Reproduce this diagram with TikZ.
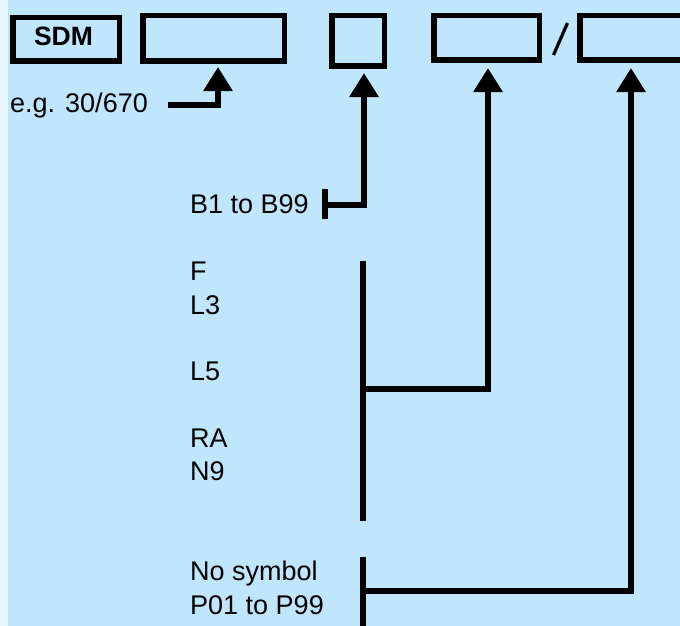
\documentclass[tikz,border=0pt]{standalone}
\usepackage{fontspec}
\setmainfont{Liberation Sans}
\usetikzlibrary{arrows.meta}
\definecolor{bg}{RGB}{191,230,253}
\definecolor{strip}{RGB}{232,246,255}
\begin{document}
\begin{tikzpicture}[x=1pt,y=-1pt,
  field/.style={draw=black, line width=5.5pt, inner sep=0pt},
  conn/.style={line width=6pt},
  arr/.style={conn,-{Triangle[width=28pt,length=24pt]}},
  bar/.style={line width=6pt},
  lbl/.style={anchor=base west, inner sep=0pt, font=\fontsize{27}{27}\selectfont}]
\useasboundingbox (0,0) rectangle (680,626);
\fill[bg] (0,0) rectangle (680,626);
\fill[strip] (0,0) rectangle (8,626);

% fields
\node[field, minimum width=106.5pt, minimum height=43.5pt] (sdm) at (66,39.5) {};
\node[inner sep=0pt, font=\bfseries\fontsize{26.5}{26.5}\selectfont] (sdmt) at (63.5,36.5) {SDM};
\node[field, minimum width=141.5pt, minimum height=45.5pt] (f2) at (213.5,38.5) {};
\node[field, minimum width=52.5pt, minimum height=50.5pt] (f3) at (358,41) {};
\node[field, minimum width=105.5pt, minimum height=44.5pt] (f4) at (486.5,38) {};
\node[field, minimum width=150pt, minimum height=44.5pt] (f5) at (654.75,38) {};
\coordinate (s1) at (553.5,55);
\coordinate (s2) at (567.5,23);
\draw[line width=3.2pt] (s1) -- (s2);

% labels
\node[lbl] (eg) at (10,112) {e.g. 30/670};
\node[lbl] (b) at (190,213) {B1 to B99};
\node[lbl] (lf) at (190,280) {F};
\node[lbl] (l3) at (190,314) {L3};
\node[lbl] (l5) at (190,380) {L5};
\node[lbl] (ra) at (190,447) {RA};
\node[lbl] (n9) at (190,480) {N9};
\node[lbl] (ns) at (190,580) {No symbol};
\node[lbl] (p) at (190,614) {P01 to P99};

% connector points
\coordinate (egs) at (168,105);
\coordinate (egt) at (218,105);
\coordinate (bt1) at (325,189);
\coordinate (bt2) at (325,219);
\coordinate (bj) at (325,204.5);
\coordinate (x3) at (364,0);
\coordinate (v1) at (363,261);
\coordinate (v2) at (363,521);
\coordinate (vj) at (363,389);
\coordinate (x4) at (488,0);
\coordinate (w1) at (363,557);
\coordinate (w2) at (363,640);
\coordinate (wj) at (363,591);
\coordinate (x5) at (631,0);

% connectors
\draw[arr, shorten >=3pt] (egs) -| (egt |- f2.south);
\draw[bar] (bt1) -- (bt2);
\draw[arr, shorten >=4pt] (bj) -| (x3 |- f3.south);
\draw[bar] (v1) -- (v2);
\draw[arr, shorten >=5pt] (vj) -| (x4 |- f4.south);
\draw[bar] (w1) -- (w2);
\draw[arr, shorten >=5pt] (wj) -| (x5 |- f5.south);
\end{tikzpicture}
\end{document}
